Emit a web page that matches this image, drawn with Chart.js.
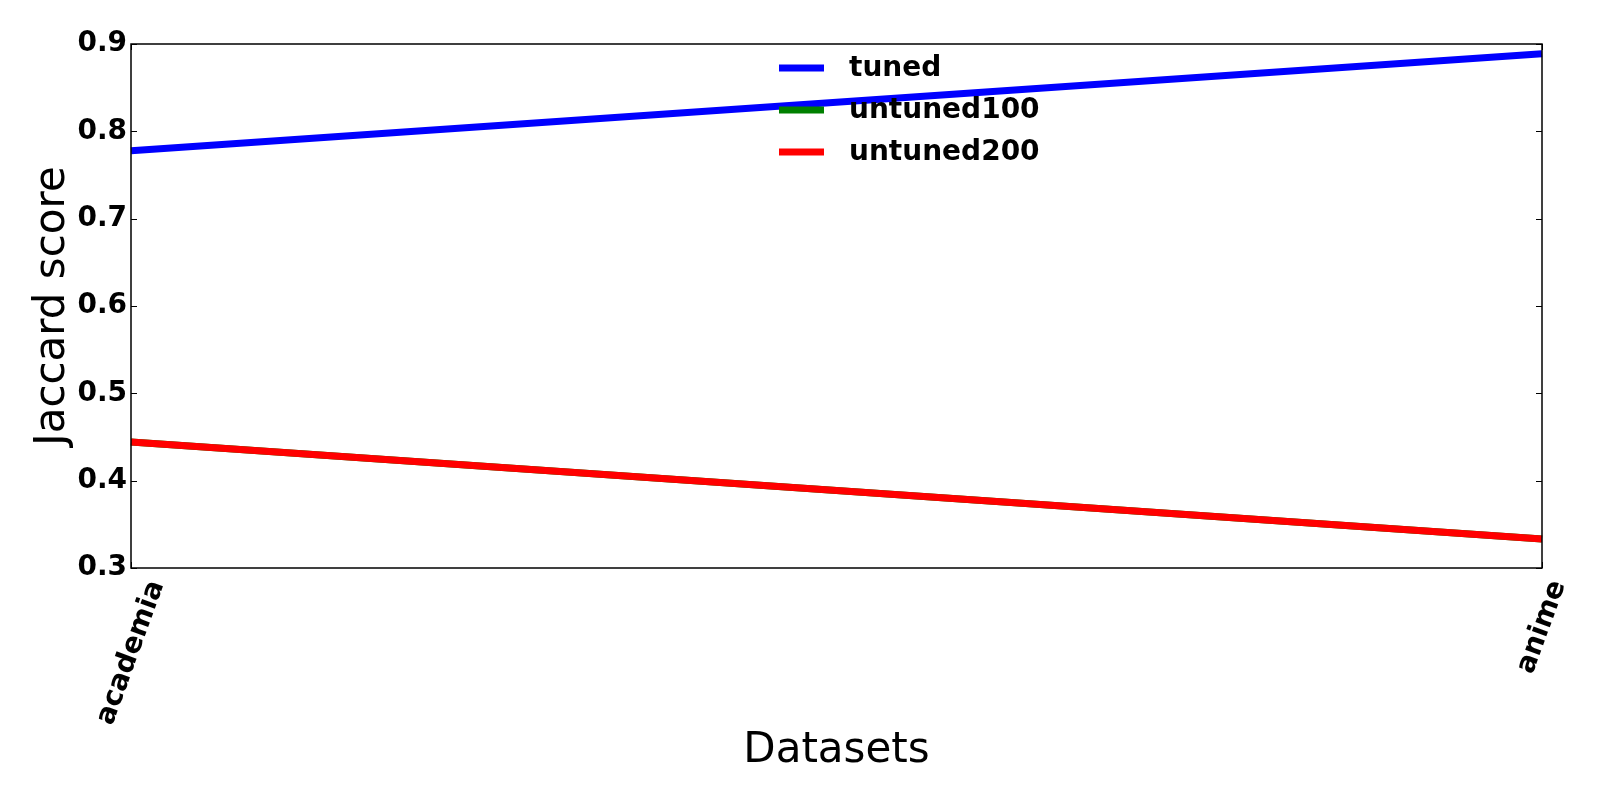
<!DOCTYPE html>
<html lang="en">
<head>
    <meta charset="UTF-8">
    <title>Jaccard score</title>
    <script src="https://cdn.jsdelivr.net/npm/chart.js"></script>
    <style>
        html, body { margin: 0; padding: 0; background: #fff; }
    </style>
</head>
<body>
    <canvas id="canvas" width="1600" height="800"></canvas>
    <script>
        // values
        const datasetNames = ["academia", "anime"];
        const tuned = [0.7778, 0.8889];
        const untuned100 = [0.4444, 0.3333];
        const untuned200 = [0.4444, 0.3333];
        const yTicks = [0.3, 0.4, 0.5, 0.6, 0.7, 0.8, 0.9];

        const FONT = "'DejaVu Sans', sans-serif";

        // frame + inward ticks on all four sides (matplotlib classic look)
        const framePlugin = {
            id: 'frame',
            afterDraw(chart) {
                const { ctx, chartArea: a, scales } = chart;
                ctx.save();
                ctx.strokeStyle = '#000';
                ctx.lineWidth = 1;
                scales.y.ticks.forEach((t, i) => {
                    const y = Math.round(scales.y.getPixelForTick(i)) + 0.5;
                    ctx.beginPath();
                    ctx.moveTo(a.left, y); ctx.lineTo(a.left + 6, y);
                    ctx.moveTo(a.right, y); ctx.lineTo(a.right - 6, y);
                    ctx.stroke();
                });
                scales.x.ticks.forEach((t, i) => {
                    const x = Math.round(scales.x.getPixelForTick(i)) + 0.5;
                    ctx.beginPath();
                    ctx.moveTo(x, a.bottom); ctx.lineTo(x, a.bottom - 6);
                    ctx.moveTo(x, a.top); ctx.lineTo(x, a.top + 6);
                    ctx.stroke();
                });
                ctx.lineWidth = 1.5;
                ctx.strokeRect(a.left, a.top, a.right - a.left, a.bottom - a.top);
                ctx.restore();
            }
        };

        // x labels rotated 70deg and centred under the tick, like matplotlib
        const xLabelPlugin = {
            id: 'xLabels',
            afterDraw(chart) {
                const { ctx, chartArea: a, scales } = chart;
                const rot = 70 * Math.PI / 180;
                const size = 28;
                ctx.save();
                ctx.font = 'bold ' + size + 'px ' + FONT;
                ctx.fillStyle = '#000';
                ctx.textAlign = 'center';
                ctx.textBaseline = 'middle';
                scales.x.ticks.forEach((t, i) => {
                    const label = chart.data.labels[i];
                    const w = ctx.measureText(label).width;
                    const H = w * Math.sin(rot) + size * Math.cos(rot);
                    const x = scales.x.getPixelForTick(i);
                    const y = a.bottom + 9 + H / 2;
                    ctx.save();
                    ctx.translate(x, y);
                    ctx.rotate(-rot);
                    ctx.fillText(label, 0, 0);
                    ctx.restore();
                });
                ctx.restore();
            }
        };

        // legend drawn inside the plot, no frame
        const legendPlugin = {
            id: 'insideLegend',
            afterDatasetsDraw(chart) {
                const { ctx, chartArea: a } = chart;
                ctx.save();
                ctx.font = 'bold 28px ' + FONT;
                ctx.textBaseline = 'middle';
                ctx.textAlign = 'left';
                chart.data.datasets.forEach((ds, i) => {
                    const y = a.top + 24 + i * 42;
                    const x0 = a.left + 648;
                    ctx.strokeStyle = ds.borderColor;
                    ctx.lineWidth = 7;
                    ctx.beginPath();
                    ctx.moveTo(x0, y); ctx.lineTo(x0 + 45, y);
                    ctx.stroke();
                    ctx.fillStyle = '#000';
                    ctx.fillText(ds.label, x0 + 70, y + 1);
                });
                ctx.restore();
            }
        };

        const ctx = document.getElementById('canvas').getContext('2d');
        new Chart(ctx, {
            type: 'line',
            data: {
                labels: datasetNames,
                datasets: [
                    { label: 'tuned', data: tuned, borderColor: '#0000ff', order: 2 },
                    { label: 'untuned100', data: untuned100, borderColor: '#008000', order: 1 },
                    { label: 'untuned200', data: untuned200, borderColor: '#ff0000', order: 0 }
                ]
            },
            options: {
                responsive: false,
                animation: false,
                devicePixelRatio: 1,
                layout: { padding: { left: 0, top: 44, right: 58, bottom: 0 } },
                elements: {
                    line: { borderWidth: 7, tension: 0, fill: false },
                    point: { radius: 0, hoverRadius: 0 }
                },
                plugins: {
                    legend: { display: false },
                    tooltip: { enabled: false }
                },
                scales: {
                    x: {
                        type: 'category',
                        offset: false,
                        grid: { display: false, drawTicks: false },
                        border: { display: false },
                        ticks: { display: false, autoSkip: false },
                        title: {
                            display: true,
                            text: 'Datasets',
                            color: '#000',
                            font: { family: FONT, size: 42 },
                            padding: { top: 0, bottom: 24 }
                        },
                        afterFit(scale) { scale.height = 232; }
                    },
                    y: {
                        min: 0.3,
                        max: 0.9,
                        grid: { display: false, drawTicks: false },
                        border: { display: false },
                        afterBuildTicks(scale) {
                            scale.ticks = yTicks.map(v => ({ value: v }));
                        },
                        ticks: {
                            color: '#000',
                            font: { family: FONT, size: 28, weight: 'bold' },
                            padding: 4,
                            callback: v => Number(v).toFixed(1)
                        },
                        title: {
                            display: true,
                            text: 'Jaccard score',
                            color: '#000',
                            font: { family: FONT, size: 42 },
                            padding: { top: 28, bottom: 0 }
                        },
                        afterFit(scale) { scale.width = 131; }
                    }
                }
            },
            plugins: [framePlugin, xLabelPlugin, legendPlugin]
        });
    </script>
</body>
</html>
